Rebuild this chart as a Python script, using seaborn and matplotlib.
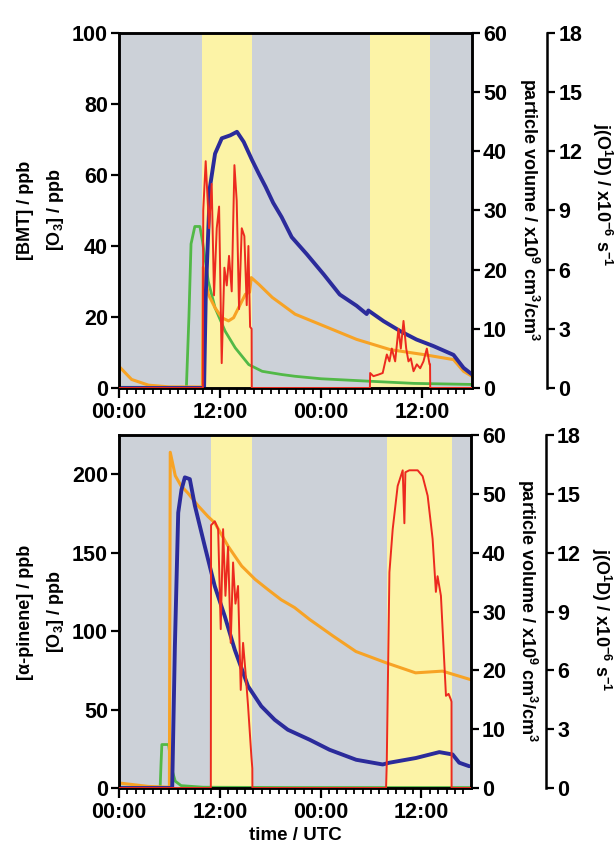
import matplotlib
matplotlib.use("Agg")
import matplotlib.pyplot as plt
import seaborn as sns
from matplotlib.ticker import MultipleLocator

sns.set_theme(style="ticks")
plt.rcParams["font.family"] = ["Liberation Sans", "DejaVu Sans"]
plt.rcParams["font.weight"] = "bold"
plt.rcParams["mathtext.default"] = "regular"
plt.rcParams["text.color"] = "black"
plt.rcParams["axes.labelcolor"] = "black"
plt.rcParams["xtick.color"] = "black"
plt.rcParams["ytick.color"] = "black"

# ---------------- data (hours since first 00:00) ----------------
x_tick_pos = [0, 12, 24, 36]
x_tick_labels = ["00:00", "12:00", "00:00", "12:00"]

# top panel: BMT experiment
top_lamp_periods = [(9.9, 15.76), (29.8, 36.94)]
top_bmt_t = [0, 8.0, 8.3, 8.55, 9.0, 9.6, 9.9, 10.6, 11.4, 12.6, 13.8, 15.4, 17.0, 19.3, 20.9, 24.0, 29.8, 35.0, 41.9]
top_bmt = [0.2, 0.2, 20, 40.6, 45.5, 45.5, 41.5, 30, 22.6, 16, 11.3, 6.6, 4.7, 3.8, 3.3, 2.6, 1.9, 1.3, 1.0]

top_o3_t = [0, 1.5, 3.5, 6, 9.9, 10.0, 10.6, 11.4, 12.2, 13.0, 13.6, 14.4, 15.0, 15.5, 15.7, 16.6, 18.2, 19.3, 20.9, 24.3, 28.2, 32.2, 36.2, 39.7, 40.9, 41.9]
top_o3 = [6.1, 2.4, 0.8, 0.3, 0.3, 34, 26.4, 22.6, 19.8, 18.9, 19.8, 23.6, 26.4, 27.0, 31.1, 29.2, 25.5, 23.6, 20.8, 17.5, 13.7, 10.8, 9.4, 8.0, 4.7, 3.3]

top_pv_t = [0, 10.1, 10.3, 10.8, 11.4, 12.2, 13.2, 14.0, 14.8, 15.8, 16.6, 17.4, 18.3, 19.3, 20.5, 22.3, 24.3, 26.2, 28.2, 29.4, 29.6, 31.4, 33.4, 35.3, 37.3, 39.7, 40.9, 41.9]
top_pv = [0, 0, 15.8, 34, 39.6, 42.2, 42.7, 43.3, 41.6, 38.5, 36.2, 34, 31.3, 28.9, 25.5, 22.6, 19.2, 15.8, 13.9, 12.5, 13.1, 11.3, 9.6, 8.2, 7.1, 5.6, 3.4, 2.3]

top_j_t = [0, 9.95, 10.0, 10.29, 10.69, 11.0, 11.28, 11.6, 11.88, 12.19, 12.51, 12.79, 13.06, 13.38, 13.7, 13.97, 14.25,
           14.57, 14.88, 15.16, 15.36, 15.56, 15.74, 15.76, 29.78, 29.81, 30.2, 30.8, 31.3, 31.79, 32.1, 32.38, 32.78,
           33.17, 33.45, 33.77, 34.09, 34.36, 34.64, 34.96, 35.35, 35.75, 36.14, 36.54, 36.86, 36.92, 36.94, 41.9]
top_j = [0, 0, 9.0, 11.5, 8.1, 10.35, 4.7, 8.1, 9.2, 1.26, 6.1, 5.2, 6.7, 4.9, 11.3, 9.5, 4.0,
         8.1, 7.7, 4.2, 7.2, 3.1, 3.0, 0, 0, 0.76, 0.6, 0.68, 0.76, 1.7, 1.35, 2.0, 1.35,
         3.0, 2.0, 3.4, 2.0, 1.35, 1.5, 0.85, 1.2, 1.0, 1.35, 2.0, 1.2, 1.2, 0, 0]

# bottom panel: alpha-pinene experiment
bot_lamp_periods = [(10.93, 15.88), (31.85, 39.6)]
bot_ap_t = [0, 4.9, 5.0, 5.1, 5.9, 6.3, 6.7, 7.4, 10, 20, 41.9]
bot_ap = [0.5, 0.5, 15, 27.7, 27.7, 11.7, 4.3, 1.5, 0.5, 0.3, 0.3]

bot_o3_t = [0, 3.5, 5.9, 6.0, 6.1, 6.7, 7.4, 8.2, 9.4, 10.6, 11.4, 13.0, 14.6, 16.2, 17.7, 19.3, 20.9, 22.7, 25.5, 28.2, 31.8, 35.3, 38.5, 41.9]
bot_o3 = [3.2, 1.0, 0.5, 0.5, 214, 199, 192.5, 188, 180, 173, 169, 154, 141.5, 133, 126.6, 120, 115, 107.4, 96.8, 87, 79.8, 73.4, 74.5, 69]

bot_pv_t = [0, 6.33, 6.65, 7.05, 7.44, 7.84, 8.43, 9.03, 10.21, 11.4, 12.59, 13.78, 15.36, 16.94, 18.53, 20.1, 22.7, 25.06,
            28.23, 31.39, 32.19, 35.35, 38.13, 39.71, 40.5, 41.69]
bot_pv = [0, 0, 24, 46.8, 50.7, 52.8, 52.5, 48, 41.1, 34.3, 29.2, 23.5, 17.3, 13.9, 11.6, 9.9, 8.2, 6.5,
          4.8, 4.0, 4.3, 5.1, 6.1, 5.7, 4.3, 3.7]

bot_j_t = [0, 10.93, 10.96, 11.4, 11.8, 12.11, 12.39, 12.67, 12.98, 13.3, 13.58, 13.86, 14.17, 14.49, 14.77, 15.04, 15.36,
           15.76, 15.87, 15.88, 31.79, 31.87, 32.19, 32.58, 33.17, 33.77, 33.97, 34.09, 34.56, 35.55, 36.14, 36.74,
           37.33, 37.72, 37.92, 38.32, 38.72, 38.92, 39.23, 39.51, 39.58, 39.59, 41.9]
bot_j = [0, 0, 13.4, 13.6, 13.2, 8.1, 13.2, 9.8, 12.3, 7.4, 11.5, 9.4, 10.3, 5.0, 7.4, 6.0, 4.2,
         1.6, 1.0, 0, 0, 1.2, 11.0, 13.2, 15.4, 16.2, 13.5, 16.1, 16.2, 16.2, 15.9, 14.9,
         12.7, 10.0, 10.8, 9.8, 6.4, 4.7, 4.8, 4.5, 4.4, 0, 0]

# ---------------- styling ----------------
C_BG = "#ccd1d8"
C_YEL = "#fcf3a6"
C_BLUE = "#2b2b9b"
C_ORANGE = "#f7a325"
C_GREEN = "#52b947"
C_RED = "#ec2a1f"
TICK_FS = 15.5
LAB_FS = 13
SPINE_LW = 1.8

W, H = 615, 848
fig = plt.figure(figsize=(W / 100, H / 100), dpi=100)


def px_axes(left, top, right, bottom):
    return fig.add_axes([left / W, 1 - bottom / H, (right - left) / W, (bottom - top) / H])


def style_y(ax):
    ax.tick_params(axis="y", which="major", direction="out", length=6, width=1.6,
                   labelsize=TICK_FS, pad=2, colors="black")
    for lab in ax.get_yticklabels():
        lab.set_fontweight("bold")


def panel(ax, lamps, chem_t, chem, chem_color, o3_t, o3, pv_t, pv, j_t, j, ymax, yticks):
    ax.set_facecolor(C_BG)
    for a, b in lamps:
        ax.axvspan(a, b, color=C_YEL, lw=0, zorder=0)
    sns.lineplot(x=chem_t, y=chem, ax=ax, color=chem_color, linewidth=2.0, estimator=None, sort=False)
    sns.lineplot(x=o3_t, y=o3, ax=ax, color=C_ORANGE, linewidth=2.2, estimator=None, sort=False)
    ax.set_xlim(0, 41.9)
    ax.set_ylim(0, ymax)
    ax.set_yticks(yticks)
    ax.set_xticks(x_tick_pos)
    ax.set_xticklabels(x_tick_labels, fontsize=TICK_FS, fontweight="bold")
    ax.xaxis.set_minor_locator(MultipleLocator(1))
    ax.tick_params(axis="x", which="major", direction="out", length=7, width=1.6, labelsize=TICK_FS, pad=3)
    ax.tick_params(axis="x", which="minor", direction="out", length=4, width=1.3)
    ax.set_xlabel("")
    ax.set_ylabel("")
    style_y(ax)
    for s in ax.spines.values():
        s.set_linewidth(SPINE_LW)
        s.set_color("black")

    ax2 = ax.twinx()
    sns.lineplot(x=pv_t, y=pv, ax=ax2, color=C_BLUE, linewidth=2.8, estimator=None, sort=False)
    ax2.set_ylim(0, 60)
    ax2.set_yticks(range(0, 61, 10))
    ax2.set_ylabel("")
    style_y(ax2)
    for s in ax2.spines.values():
        s.set_linewidth(SPINE_LW)
        s.set_color("black")

    ax3 = ax.twinx()
    sns.lineplot(x=j_t, y=j, ax=ax3, color=C_RED, linewidth=1.4, estimator=None, sort=False)
    ax3.set_ylim(0, 18)
    ax3.set_yticks(range(0, 19, 3))
    ax3.set_ylabel("")
    ax3.spines["right"].set_position(("axes", 1.213))
    for k in ["top", "bottom", "left"]:
        ax3.spines[k].set_visible(False)
    ax3.spines["right"].set_linewidth(SPINE_LW)
    ax3.spines["right"].set_color("black")
    style_y(ax3)
    ax.set_xlim(0, 41.9)
    return ax, ax2, ax3


ax_top = px_axes(119, 33, 472, 388)
panel(ax_top, top_lamp_periods, top_bmt_t, top_bmt, C_GREEN, top_o3_t, top_o3,
      top_pv_t, top_pv, top_j_t, top_j, 100, range(0, 101, 20))

ax_bot = px_axes(119, 435, 471, 788)
panel(ax_bot, bot_lamp_periods, bot_ap_t, bot_ap, C_GREEN, bot_o3_t, bot_o3,
      bot_pv_t, bot_pv, bot_j_t, bot_j, 225, range(0, 201, 50))


def ftext(x, y, s, rot, fs=LAB_FS):
    fig.text(x / W, 1 - y / H, s, rotation=rot, ha="center", va="center",
             fontsize=fs, fontweight="bold", color="black", rotation_mode="anchor")


# left labels
ftext(26, 210, "[BMT] / ppb", 90)
ftext(56, 210, "[O$_3$] / ppb", 90)
ftext(26, 612, "[\u03b1-pinene] / ppb", 90)
ftext(56, 612, "[O$_3$] / ppb", 90)
# right labels
pv_label = "particle volume / x10$^9$ cm$^3$/cm$^3$"
j_label = "j(O$^1$D) / x10$^{-6}$ s$^{-1}$"
ftext(529, 210, pv_label, 270)
ftext(527, 611, pv_label, 270)
ftext(602, 195, j_label, 270)
ftext(601, 620, j_label, 270)
# x label
ftext(295, 836, "time / UTC", 0, fs=13.5)

fig.savefig("out.png", dpi=100)
